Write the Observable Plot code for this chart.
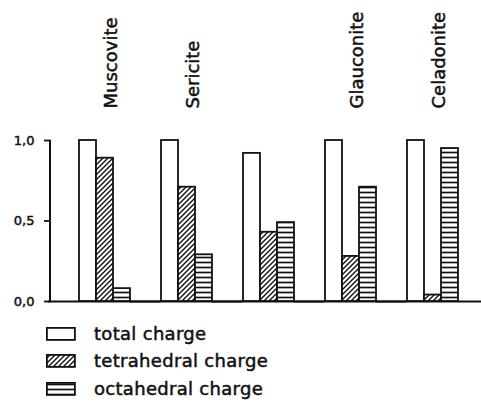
<!DOCTYPE html>
<html>
<head>
<meta charset="utf-8">
<script src="https://cdn.jsdelivr.net/npm/d3@7"></script>
<script src="https://cdn.jsdelivr.net/npm/@observablehq/plot@0.6"></script>
<style>
  html, body { margin: 0; padding: 0; background: #fff; }
  body { width: 481px; height: 403px; overflow: hidden; font-family: "DejaVu Sans", sans-serif; color: #111; }
  #legend { margin-top: 8px; padding-left: 46px; }
  .row { height: 27.5px; display: flex; align-items: center; }
  .row svg { display: block; flex: none; }
  .row span { margin-left: 18px; font-size: 18px; letter-spacing: 0.3px; line-height: 1;
              -webkit-text-stroke: 0.5px #111; }
</style>
</head>
<body>
<div id="chart"></div>
<div id="legend"></div>
<script>
// ---- data ----
const groups = ["Muscovite", "Sericite", "group3", "Glauconite", "Celadonite"];
const groupLabels = ["Muscovite", "Sericite", "", "Glauconite", "Celadonite"];
const series = ["total charge", "tetrahedral charge", "octahedral charge"];
const totalCharge = [1.00, 1.00, 0.92, 1.00, 1.00];
const tetrahedralCharge = [0.89, 0.71, 0.43, 0.28, 0.04];
const octahedralCharge = [0.08, 0.29, 0.49, 0.71, 0.95];
const yTicks = [0, 0.5, 1];
const yTickLabels = ["0,0", "0,5", "1,0"];

// ---- derived tables ----
const seriesValues = [totalCharge, tetrahedralCharge, octahedralCharge];
const fills = ["white", "url(#hatchDiag)", "url(#hatchHoriz)"];
const bars = groups.flatMap((g, i) =>
  series.map((s, j) => ({group: g, series: s, value: seriesValues[j][i]}))
);
const labels = groups.map((g, i) => ({group: g, label: groupLabels[i]})).filter(d => d.label);

const ink = "#111";
const W = 481, H = 312, mTop = 140, mBottom = 11, mLeft = 62, mRight = 8, axisShift = -12;

const plot = Plot.plot({
  width: W,
  height: H,
  marginTop: mTop,
  marginBottom: mBottom,
  marginLeft: mLeft,
  marginRight: mRight,
  style: {fontFamily: "DejaVu Sans, sans-serif", color: ink, background: "white", overflow: "visible"},
  fx: {domain: groups, padding: 0, axis: null, label: null},
  x: {domain: series, paddingInner: 0, paddingOuter: 0.86, axis: null},
  y: {domain: [0, 1], axis: null},
  color: {domain: series, range: fills},
  marks: [
    Plot.ruleY([0], {stroke: ink, strokeWidth: 1.8, insetLeft: -15.2, insetRight: -15.2}),
    Plot.axisY(yTicks, {
      anchor: "left",
      label: null,
      tickFormat: d => yTickLabels[yTicks.indexOf(d)],
      tickSize: 7,
      tickPadding: 10,
      dx: axisShift,
      fontSize: 13,
      stroke: ink,
      strokeWidth: 1.8,
      fill: ink
    }),
    Plot.barY(bars, {
      fx: "group",
      x: "series",
      y: "value",
      fill: "series",
      stroke: ink,
      strokeWidth: 1.8
    }),
    Plot.text(labels, {
      fx: "group",
      text: "label",
      frameAnchor: "top",
      rotate: -90,
      textAnchor: "start",
      dy: -32,
      fontSize: 18,
      fill: ink,
      stroke: ink,
      strokeWidth: 0.5
    })
  ]
});

const svg = d3.select(plot);

// hatch patterns used as fills
const defs = svg.insert("defs", ":first-child");
const diag = defs.append("pattern")
  .attr("id", "hatchDiag").attr("patternUnits", "userSpaceOnUse")
  .attr("width", 5).attr("height", 5);
diag.append("rect").attr("width", 5).attr("height", 5).attr("fill", "white");
diag.append("path").attr("d", "M-1,1 L1,-1 M0,5 L5,0 M4,6 L6,4")
  .attr("stroke", ink).attr("stroke-width", 1.4);
const hor = defs.append("pattern")
  .attr("id", "hatchHoriz").attr("patternUnits", "userSpaceOnUse")
  .attr("width", 5).attr("height", 5);
hor.append("rect").attr("width", 5).attr("height", 5).attr("fill", "white");
hor.append("path").attr("d", "M0,2.5 L5,2.5")
  .attr("stroke", ink).attr("stroke-width", 1.7);

// y axis line, positioned with the plot's own y scale
const yScale = plot.scale("y");
svg.append("line")
  .attr("x1", mLeft + axisShift).attr("x2", mLeft + axisShift)
  .attr("y1", yScale.apply(yScale.domain[0])).attr("y2", yScale.apply(yScale.domain[1]))
  .attr("stroke", ink).attr("stroke-width", 2);

// slightly heavier tick labels, like the lettering of the original
svg.selectAll("g[aria-label='y-axis tick label']")
  .attr("stroke", ink).attr("stroke-width", 0.5);

document.getElementById("chart").appendChild(plot);

// legend
const legend = d3.select("#legend");
series.forEach((s, j) => {
  const row = legend.append("div").attr("class", "row");
  const sw = row.append("svg").attr("width", 30).attr("height", 14);
  sw.append("rect").attr("x", 0.9).attr("y", 0.9).attr("width", 28).attr("height", 12)
    .attr("fill", fills[j]).attr("stroke", ink).attr("stroke-width", 1.8);
  row.append("span").text(s);
});
</script>
</body>
</html>
